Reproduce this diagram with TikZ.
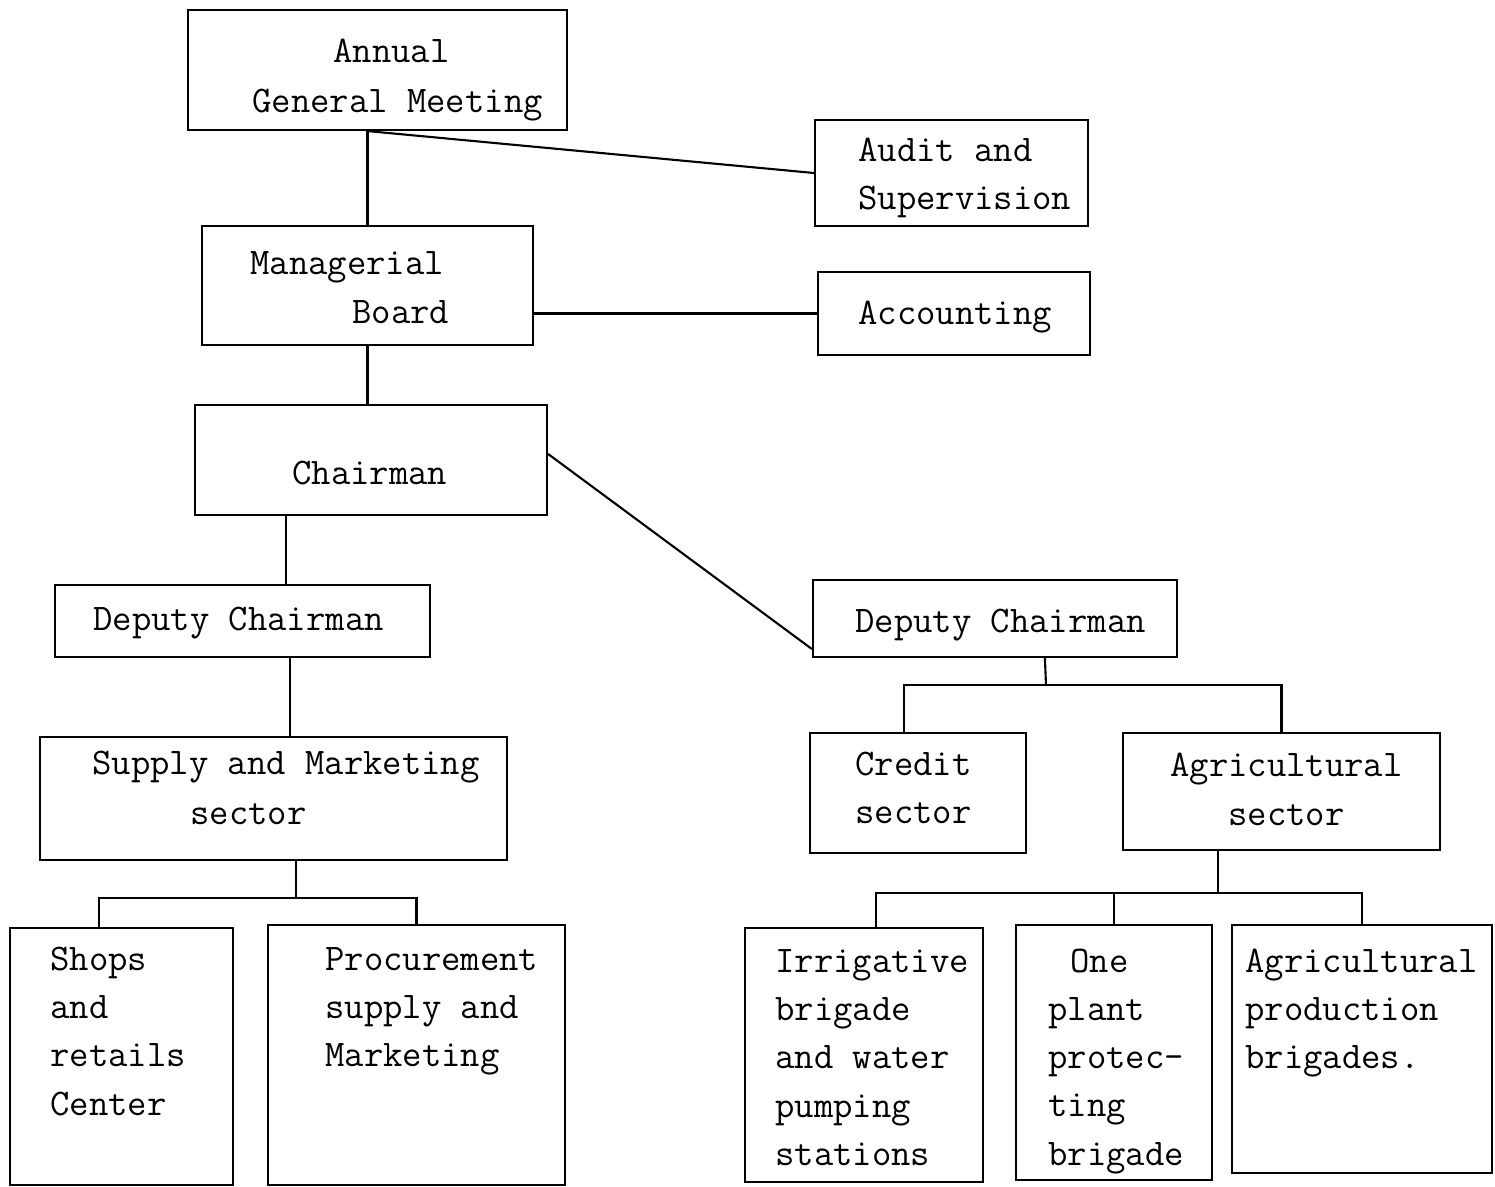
\documentclass[tikz,border=0pt]{standalone}
\usepackage{fontspec}
\usetikzlibrary{fit}
\begin{document}
\begin{tikzpicture}[x=0.02cm,y=-0.02cm]
\tikzstyle{unit}=[draw,line width=1.2pt,inner sep=0pt,rectangle]%
\tikzstyle{link}=[line width=1.2pt]%
\tikzstyle{txt}=[inner sep=0pt,anchor=north west,align=left,font=\ttfamily\fontsize{21.4}{27.5}\selectfont]%
\useasboundingbox (0,0) rectangle (1495,1187);
% boxes
\node[unit,fit={(188,10)(567,130)}] (agm) {};
\node[unit,fit={(815,120)(1088,226)}] (audit) {};
\node[unit,fit={(202,226)(533,345)}] (board) {};
\node[unit,fit={(818,272)(1090,355)}] (acc) {};
\node[unit,fit={(195,405)(547,515)}] (chair) {};
\node[unit,fit={(55,585)(430,657)}] (depL) {};
\node[unit,fit={(813,580)(1177,657)}] (depR) {};
\node[unit,fit={(40,737)(507,860)}] (supply) {};
\node[unit,fit={(810,733)(1026,853)}] (credit) {};
\node[unit,fit={(1123,733)(1440,850)}] (agrsec) {};
\node[unit,fit={(10,928)(233,1185)}] (shops) {};
\node[unit,fit={(268,925)(565,1185)}] (proc) {};
\node[unit,fit={(745,928)(983,1182)}] (irrig) {};
\node[unit,fit={(1016,925)(1212,1180)}] (plant) {};
\node[unit,fit={(1232,925)(1492,1173)}] (agrprod) {};
% texts
\node[txt] (agm-a) at (333,28) {\strut Annual};
\node[txt] (agm-b) at (252,78) {\strut General Meeting};
\node[txt] (audit-t) at (858,127) {\strut Audit and\\Supervision};
\node[txt] (board-a) at (250,240) {\strut Managerial};
\node[txt] (board-b) at (352,289) {\strut Board};
\node[txt] (acc-t) at (858,290) {\strut Accounting};
\node[txt] (chair-t) at (292,450) {\strut Chairman};
\node[txt] (depL-t) at (93,596) {\strut Deputy Chairman};
\node[txt] (depR-t) at (855,598) {\strut Deputy Chairman};
\node[txt] (supply-a) at (92,740) {\strut Supply and Marketing};
\node[txt] (supply-b) at (190,790) {\strut sector};
\node[txt] (credit-t) at (855,741) {\strut Credit\\sector};
\node[txt] (agrsec-a) at (1170,742) {\strut Agricultural};
\node[txt] (agrsec-b) at (1228,791) {\strut sector};
\node[txt] (shops-t) at (50,936) {\strut Shops\\and\\retails\\Center};
\node[txt] (proc-t) at (325,936) {\strut Procurement\\supply and\\Marketing};
\node[txt] (irrig-t) at (775,938) {\strut Irrigative\\brigade\\and water\\pumping\\stations};
\node[txt] (plant-a) at (1070,938) {\strut One};
\node[txt] (plant-b) at (1048,986) {\strut plant\\protec-\\ting\\brigade};
\node[txt] (agrprod-t) at (1245,938) {\strut Agricultural\\production\\brigades.};
% links
\coordinate (agmS) at (board.north |- agm.south);
\draw[link] (board.north) -- (agmS);
\draw[link] (agmS) -- (audit.west);
\draw[link] (acc.west) -- (acc.west -| board.east);
\draw[link] (board.south) -- (board.south |- chair.north);
\coordinate (chairS) at ([xshift=1.84cm]chair.south west);
\draw[link] (chairS) -- (chairS |- depL.north);
\draw[link] ([yshift=-1cm]chair.north east) -- ([yshift=0.18cm]depR.south west);
\coordinate (depLS) at ([xshift=4.72cm]depL.south west);
\draw[link] (depLS) -- (depLS |- supply.north);
% right branch
\coordinate (depRS) at ([xshift=4.66cm]depR.south west);
\coordinate (rbus) at (1046,685);
\coordinate (creditN) at ([xshift=1.9cm]credit.north west);
\draw[link] (depRS) -- (rbus);
\draw[link] (creditN) |- (rbus) -| (agrsec.north);
% left bottom
\coordinate (supplyS) at (296,860);
\coordinate (lbus) at (296,898);
\coordinate (shopsN) at ([xshift=1.8cm]shops.north west);
\draw[link] (supplyS) -- (lbus);
\draw[link] (shopsN) |- (lbus) -| (proc.north);
% right bottom
\coordinate (agrsecS) at (1218,850);
\coordinate (abus) at (1218,893);
\coordinate (irrigN) at ([xshift=2.64cm]irrig.north west);
\draw[link] (agrsecS) -- (abus);
\draw[link] (irrigN) |- (abus) -| (agrprod.north);
\draw[link] (plant.north) -- (plant.north |- abus);
\end{tikzpicture}
\end{document}
